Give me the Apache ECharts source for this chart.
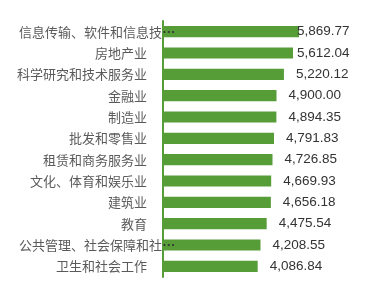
<!DOCTYPE html>
<html><head><meta charset="utf-8">
<script src="https://cdn.jsdelivr.net/npm/echarts@6/dist/echarts.min.js"></script>
<style>html,body{margin:0;padding:0;background:#fff}#c{width:370px;height:291px}</style>
</head><body><div id="c"></div>
<script>
var categories = ["信息传输、软件和信息技术服务业","房地产业","科学研究和技术服务业","金融业","制造业","批发和零售业","租赁和商务服务业","文化、体育和娱乐业","建筑业","教育","公共管理、社会保障和社会组织","卫生和社会工作"];
var values = [5869.77,5612.04,5220.12,4900.00,4894.35,4791.83,4726.85,4669.93,4656.18,4475.54,4208.55,4086.84];
var xMin = 0, xMax = 6000;

var GREEN = '#569d38';
var FONT = '"Noto Sans CJK SC", sans-serif';
var chart = echarts.init(document.getElementById('c'), null, {renderer:'canvas'});
function fmtNum(v){ return v.toLocaleString('en-US',{minimumFractionDigits:2,maximumFractionDigits:2}); }
function build(offsets){
  return {
    animation:false,
    grid:{left:163,right:68,top:21,bottom:14,containLabel:false},
    xAxis:{type:'value',min:xMin,max:xMax,show:false},
    yAxis:{type:'category',data:categories,inverse:true,z:10,
      axisLine:{show:true,lineStyle:{color:GREEN,width:2}},
      axisTick:{show:false},
      axisLabel:{margin:16,fontSize:13,color:'#5a5a5a',fontFamily:FONT,
        formatter:function(s){
          if(s.length>11){ return '{long|'+s.slice(0,11)+'}{dots|\u3000\u2005…}'; }
          return s;
        },
        rich:{
          long:{width:127,align:'left',fontSize:13,color:'#5a5a5a',fontFamily:FONT},
          dots:{width:1,align:'left',fontSize:13,color:'#333',fontWeight:'bold',fontFamily:FONT}
        }
      }
    },
    series:[{type:'bar',barCategoryGap:'48%',
      itemStyle:{color:GREEN},
      data:values.map(function(v,i){
        return {value:v,label:{offset:[offsets?offsets[i]:0,0]}};
      }),
      label:{show:true,position:'right',distance:12,fontSize:13.5,color:'#333',
        fontFamily:'"Liberation Sans", Arial, sans-serif',
        formatter:function(p){return fmtNum(p.value);}}
    }]
  };
}
chart.setOption(build(null));
var maxStart = 297;
var offs = values.map(function(v){
  var end = chart.convertToPixel({gridIndex:0},[v,0])[0];
  return Math.min(0, maxStart-(end+12));
});
chart.setOption(build(offs));
</script></body></html>
